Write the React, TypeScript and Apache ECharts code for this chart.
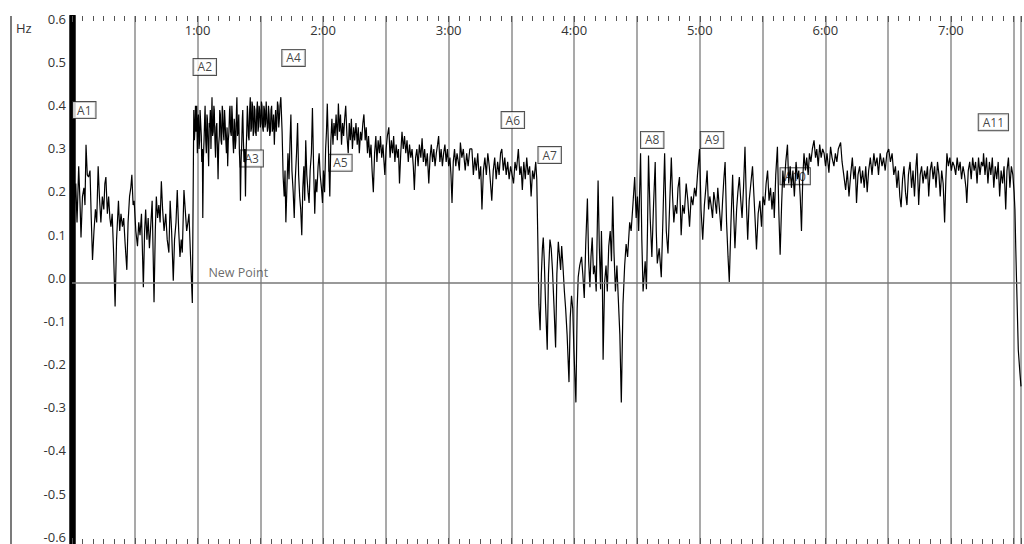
import React, { useEffect, useRef } from 'react';
import * as echarts from 'echarts';

// time (seconds) / frequency (Hz) pairs
const trace0to58: number[][] = [
  [0, 0.12], [0.6, 0.2], [1.1, 0.175], [1.8, 0.23], [2.4, 0.14], [3.2, 0.27], [3.8, 0.19], [4.3, 0.105], [5, 0.2], [5.7, 0.22],
  [6.2, 0.18], [6.7, 0.32], [7.3, 0.25], [7.9, 0.245], [8.6, 0.26], [9.2, 0.15], [9.8, 0.053], [10.5, 0.12], [11.2, 0.17], [11.8, 0.14],
  [12.5, 0.27], [13.1, 0.2], [13.8, 0.14], [14.5, 0.2], [15.2, 0.17], [15.7, 0.23], [16.2, 0.245], [16.9, 0.16], [17.5, 0.2], [18.1, 0.15],
  [18.6, 0.13], [19.2, 0.16], [19.8, 0.08], [20.6, -0.055], [21.3, 0.1], [22.2, 0.19], [22.8, 0.12], [23.4, 0.16], [24.1, 0.13], [24.7, 0.15],
  [25.4, 0.09], [26.2, 0.03], [26.8, 0.14], [27.5, 0.2], [28.1, 0.22], [28.6, 0.25], [29.2, 0.18], [29.7, 0.19], [30.5, 0.12], [31.3, 0.085],
  [31.9, 0.14], [32.5, 0.11], [33.2, 0.16], [34.1, -0.01], [34.7, 0.12], [35.2, 0.17], [35.8, 0.1], [36.4, 0.15], [37, 0.08], [37.6, 0.13],
  [38.3, 0.19], [39.2, -0.045], [39.8, 0.12], [40.3, 0.2], [40.9, 0.15], [41.5, 0.18], [42.1, 0.14], [42.7, 0.235], [43.3, 0.17], [44, 0.12],
  [44.8, 0.16], [45.5, 0.1], [46.3, 0.07], [46.9, 0.19], [47.6, 0.12], [48.4, 0.005], [49, 0.1], [49.7, 0.14], [50.3, 0.215], [51, 0.12],
  [51.6, 0.06], [52.2, 0.1], [52.7, 0.07], [53.5, 0.215], [54.1, 0.17], [54.8, 0.12], [55.4, 0.14], [55.9, 0.16], [56.5, 0.08], [57.5, -0.047],
];

const trace58to100: number[][] = [
  [58.2, 0.4], [58.5, 0.33], [58.8, 0.36], [59, 0.41], [59.3, 0.35], [59.6, 0.41], [59.9, 0.3], [60.1, 0.37], [60.4, 0.39], [60.7, 0.31],
  [61, 0.33], [61.2, 0.4], [61.5, 0.4], [61.8, 0.34], [62, 0.28], [62.3, 0.31], [62.5, 0.15], [62.8, 0.29], [63.1, 0.33], [63.4, 0.38],
  [63.6, 0.41], [63.9, 0.33], [64.2, 0.3], [64.5, 0.39], [64.7, 0.38], [65, 0.32], [65.3, 0.27], [65.6, 0.37], [65.8, 0.36], [66.1, 0.4],
  [66.4, 0.31], [66.7, 0.38], [66.9, 0.43], [67.2, 0.34], [67.5, 0.35], [67.8, 0.41], [68, 0.4], [68.3, 0.33], [68.6, 0.29], [68.9, 0.36],
  [69.2, 0.37], [69.5, 0.31], [69.8, 0.24], [70.1, 0.32], [70.4, 0.34], [70.6, 0.4], [70.9, 0.39], [71.2, 0.33], [71.5, 0.32], [71.8, 0.41],
  [72, 0.4], [72.3, 0.35], [72.6, 0.33], [72.9, 0.4], [73.1, 0.38], [73.5, 0.33], [73.8, 0.3], [74.1, 0.36], [74.4, 0.27], [74.7, 0.33],
  [75, 0.35], [75.3, 0.4], [75.5, 0.41], [75.8, 0.35], [76.1, 0.34], [76.4, 0.41], [76.6, 0.39], [76.9, 0.33], [77.2, 0.3], [77.5, 0.38],
  [77.7, 0.37], [78, 0.31], [78.3, 0.33], [78.6, 0.4], [78.8, 0.43], [79.1, 0.34], [79.4, 0.35], [79.7, 0.39], [80, 0.3], [80.3, 0.27],
  [80.5, 0.19], [80.8, 0.28], [81.1, 0.32], [81.4, 0.38], [81.6, 0.4], [81.9, 0.33], [82.2, 0.28], [82.6, 0.31], [82.9, 0.2], [83.2, 0.3],
  [83.5, 0.35], [83.8, 0.41], [84, 0.39], [84.3, 0.34], [84.6, 0.33], [84.9, 0.4], [85.2, 0.43], [85.5, 0.35], [85.8, 0.36], [86, 0.42],
  [86.3, 0.41], [86.6, 0.34], [86.9, 0.35], [87.1, 0.41], [87.4, 0.4], [87.7, 0.35], [88, 0.34], [88.3, 0.4], [88.6, 0.42], [88.9, 0.35],
  [89.1, 0.36], [89.4, 0.41], [89.7, 0.4], [90, 0.36], [90.3, 0.37], [90.5, 0.42], [90.8, 0.41], [91.1, 0.36], [91.4, 0.35], [91.7, 0.41],
  [92, 0.4], [92.2, 0.36], [92.5, 0.37], [92.8, 0.42], [93.1, 0.42], [93.4, 0.35], [93.7, 0.36], [93.9, 0.41], [94.2, 0.39], [94.5, 0.34],
  [94.8, 0.35], [95.1, 0.4], [95.4, 0.41], [95.7, 0.35], [96, 0.36], [96.3, 0.39], [96.7, 0.32], [97, 0.37], [97.3, 0.4], [97.6, 0.35],
  [97.9, 0.37], [98.2, 0.42], [98.5, 0.41], [98.8, 0.36], [99.1, 0.38], [99.4, 0.41], [99.8, 0.43],
];

const trace100to124: number[][] = [
  [100.4, 0.35], [100.9, 0.245], [101.4, 0.2], [101.8, 0.26], [102.2, 0.14], [102.7, 0.22], [103.2, 0.3], [103.7, 0.24], [104.2, 0.33], [104.6, 0.39],
  [105.1, 0.26], [105.7, 0.21], [106.2, 0.15], [106.7, 0.24], [107.3, 0.3], [107.8, 0.37], [108.3, 0.25], [108.8, 0.2], [109.3, 0.17], [109.8, 0.11],
  [110.3, 0.22], [110.8, 0.27], [111.2, 0.19], [111.7, 0.33], [112.2, 0.25], [112.8, 0.21], [113.3, 0.185], [113.8, 0.26], [114.4, 0.3], [114.9, 0.405],
  [115.4, 0.28], [116, 0.16], [116.5, 0.24], [117, 0.21], [117.6, 0.27], [118.1, 0.3], [118.6, 0.25], [119.2, 0.22], [119.7, 0.185], [120.2, 0.26],
  [120.7, 0.21], [121.2, 0.31], [121.6, 0.35], [122, 0.415], [122.6, 0.3], [123.2, 0.2], [123.7, 0.33],
];

const trace124to185: number[][] = [
  [124.2, 0.38], [124.7, 0.32], [125.2, 0.37], [125.7, 0.34], [126.2, 0.39], [126.8, 0.33], [127.3, 0.415], [127.8, 0.35], [128.3, 0.39], [128.8, 0.32],
  [129.3, 0.37], [129.8, 0.34], [130.3, 0.38], [130.8, 0.41], [131.4, 0.34], [132, 0.3], [132.5, 0.37], [133, 0.33], [133.5, 0.38], [134, 0.31],
  [134.6, 0.36], [135.1, 0.33], [135.7, 0.37], [136.3, 0.32], [136.8, 0.36], [137.3, 0.3], [137.9, 0.35], [138.4, 0.33], [139, 0.37], [139.5, 0.39],
  [140.1, 0.33], [140.6, 0.36], [141.2, 0.3], [141.7, 0.34], [142.3, 0.29], [142.9, 0.32], [143.4, 0.26], [144, 0.21], [144.6, 0.3], [145.2, 0.34],
  [145.7, 0.28], [146.3, 0.33], [146.9, 0.3], [147.4, 0.34], [148, 0.29], [148.6, 0.32], [149.1, 0.28], [149.5, 0.25], [150.1, 0.31], [150.7, 0.34],
  [151.4, 0.36], [152, 0.29], [152.6, 0.33], [153.2, 0.3], [153.7, 0.34], [154.3, 0.28], [154.9, 0.32], [155.5, 0.29], [156, 0.31], [156.5, 0.23],
  [157.1, 0.3], [157.7, 0.35], [158.3, 0.31], [158.9, 0.34], [159.5, 0.3], [160.1, 0.33], [160.7, 0.28], [161.3, 0.32], [161.9, 0.29], [162.5, 0.31],
  [163.1, 0.27], [163.6, 0.215], [164.2, 0.29], [164.8, 0.31], [165.4, 0.27], [166, 0.32], [166.7, 0.29], [167.3, 0.335], [167.9, 0.28], [168.5, 0.31],
  [169.1, 0.27], [169.8, 0.3], [170.5, 0.23], [171.1, 0.29], [171.7, 0.32], [172.3, 0.28], [172.9, 0.31], [173.5, 0.27], [174.1, 0.3], [174.7, 0.32],
  [175.2, 0.34], [175.8, 0.28], [176.4, 0.31], [177, 0.27], [177.6, 0.3], [178.2, 0.32], [178.8, 0.28], [179.4, 0.31], [180, 0.27], [180.6, 0.29],
  [181.1, 0.25], [181.6, 0.185], [182.2, 0.28], [182.8, 0.31], [183.4, 0.27], [184, 0.3], [184.6, 0.28], [185.1, 0.26],
];

const trace185to273: number[][] = [
  [185.6, 0.325], [186.3, 0.29], [187, 0.31], [187.9, 0.26], [188.6, 0.3], [189.3, 0.27], [190.1, 0.31], [191.1, 0.31], [191.8, 0.25], [192.5, 0.29],
  [193.2, 0.26], [193.9, 0.3], [194.6, 0.24], [195.3, 0.27], [195.9, 0.17], [196.6, 0.26], [197.3, 0.29], [198, 0.25], [198.7, 0.3], [199.4, 0.27],
  [200, 0.23], [200.6, 0.19], [201.3, 0.26], [202, 0.29], [202.7, 0.24], [203.4, 0.28], [204.1, 0.25], [204.8, 0.3], [205.4, 0.31], [206.1, 0.26],
  [206.8, 0.29], [207.5, 0.25], [208.2, 0.28], [208.9, 0.24], [209.6, 0.27], [210.3, 0.25], [211, 0.23], [211.7, 0.28], [212.4, 0.26], [213.3, 0.31],
  [214, 0.25], [214.6, 0.27], [215.2, 0.215], [215.9, 0.28], [216.6, 0.24], [217.3, 0.29], [218, 0.25], [218.7, 0.27], [219.4, 0.2], [220.1, 0.26],
  [220.8, 0.24], [221.6, 0.28], [222.1, 0.24], [222.6, 0.1], [223.1, -0.05], [223.7, -0.11], [224.3, 0.02], [224.8, 0.08], [225.2, 0.105], [225.7, 0.05],
  [226.3, -0.05], [227.1, -0.155], [227.7, 0.02], [228.4, 0.1], [229, 0.08], [229.6, 0.03], [230.3, -0.05], [231.1, -0.15], [231.7, 0.02], [232.4, 0.095],
  [233, 0.06], [233.5, 0.03], [234, 0.085], [234.6, 0.04], [235.3, -0.02], [235.9, -0.06], [236.6, -0.12], [237.5, -0.23], [238.1, -0.08], [238.7, -0.03],
  [239.3, -0.06], [239.8, -0.15], [240.8, -0.277], [241.4, -0.06], [241.9, 0.013], [242.6, 0.04], [243.5, 0.06], [244.1, 0.02], [244.8, -0.035], [245.5, 0.09],
  [246.3, 0.195], [246.9, 0.05], [247.5, -0.01], [248, 0.06], [248.6, 0.105], [249.2, 0.02], [249.8, 0.04], [250.5, -0.02], [251.4, 0.237], [252, 0.08],
  [252.6, -0.015], [253, 0.12], [253.4, 0.03], [253.8, -0.178], [254.5, 0], [255.2, 0.04], [255.8, -0.02], [256.5, 0.085], [257.2, 0.12], [257.8, 0.05],
  [258.4, 0.2], [259, 0.07], [259.7, -0.02], [260.4, 0.04], [261, -0.03], [261.8, -0.12], [262.5, -0.277], [263.3, -0.05], [264.1, 0.04], [264.8, 0.09],
  [265.5, 0.06], [266.5, 0.14], [267.2, 0.12], [268.1, 0.185], [268.9, 0.245], [269.6, 0.15], [270.2, 0.2], [270.8, 0.12], [271.7, 0.3], [272.3, 0.1],
  [272.9, -0.02],
];

const trace273to362: number[][] = [
  [273.9, 0.05], [274.5, -0.015], [275, 0.12], [275.5, 0.295], [276.3, 0.15], [277.1, 0.06], [277.9, 0.18], [278.7, 0.28], [279.2, 0.12], [279.7, 0.045],
  [280.6, 0.08], [281.6, 0.013], [282.4, 0.15], [283.2, 0.3], [284, 0.12], [284.8, 0.068], [285.6, 0.18], [286.4, 0.29], [287, 0.2], [287.6, 0.14],
  [288.3, 0.18], [289, 0.16], [289.6, 0.22], [290.3, 0.245], [291.1, 0.11], [291.8, 0.18], [292.6, 0.16], [293.5, 0.23], [294.3, 0.19], [295.1, 0.13],
  [295.9, 0.2], [296.7, 0.18], [297.5, 0.22], [298.2, 0.2], [298.9, 0.25], [299.9, 0.31], [300.6, 0.17], [301.4, 0.1], [302.2, 0.18], [302.9, 0.22],
  [303.5, 0.26], [304.2, 0.17], [304.8, 0.2], [305.4, 0.18], [306.1, 0.15], [306.7, 0.21], [307.3, 0.19], [308, 0.16], [308.6, 0.22], [309.4, 0.17],
  [310.2, 0.12], [310.9, 0.19], [311.5, 0.24], [312.1, 0.28], [312.8, 0.14], [313.5, 0.06], [314.1, 0.002], [314.9, 0.14], [315.7, 0.25], [316.2, 0.16],
  [316.8, 0.08], [317.6, 0.17], [318.2, 0.21], [318.9, 0.245], [319.6, 0.19], [320.2, 0.15], [320.9, 0.22], [321.6, 0.315], [322.3, 0.18], [322.9, 0.1],
  [323.6, 0.19], [324.4, 0.23], [325.2, 0.27], [325.9, 0.2], [326.5, 0.14], [327.1, 0.077], [327.9, 0.16], [328.7, 0.19], [329.5, 0.13], [330.2, 0.2],
  [331, 0.18], [331.7, 0.23], [332.4, 0.26], [333.1, 0.19], [333.8, 0.22], [334.5, 0.17], [335.2, 0.21], [335.6, 0.15], [336.3, 0.25], [337.1, 0.315],
  [337.8, 0.16], [338.4, 0.065], [339.1, 0.18], [339.7, 0.26], [340.3, 0.22], [341.1, 0.28], [341.9, 0.32], [342.5, 0.23], [343.2, 0.27], [343.8, 0.22],
  [344.5, 0.26], [345.2, 0.2], [346, 0.28], [346.7, 0.24], [347.3, 0.26], [348, 0.2], [348.6, 0.12], [349.2, 0.24], [349.8, 0.3], [350.5, 0.26],
  [351.1, 0.29], [351.8, 0.25], [352.4, 0.3], [353.1, 0.28], [353.8, 0.31], [354.6, 0.33], [355.3, 0.29], [355.9, 0.31], [356.6, 0.27], [357.3, 0.32],
  [358, 0.29], [358.7, 0.31], [359.4, 0.3], [360.1, 0.27], [360.8, 0.3], [361.7, 0.255],
];

const trace362to453: number[][] = [
  [362.5, 0.315], [363.2, 0.29], [364.1, 0.27], [364.8, 0.3], [365.5, 0.28], [366.2, 0.31], [367.3, 0.325], [368, 0.28], [368.8, 0.25], [369.7, 0.215],
  [370.5, 0.26], [371.3, 0.2], [372.1, 0.25], [372.9, 0.29], [373.6, 0.24], [374.3, 0.27], [374.9, 0.185], [375.6, 0.25], [376.4, 0.27], [377.1, 0.23],
  [377.8, 0.26], [378.6, 0.22], [379.3, 0.27], [380, 0.21], [380.7, 0.26], [381.5, 0.29], [382.3, 0.25], [383.2, 0.3], [383.9, 0.27], [384.7, 0.29],
  [385.4, 0.25], [386.2, 0.3], [387.1, 0.27], [387.8, 0.29], [388.6, 0.26], [389.4, 0.3], [390.3, 0.31], [391.1, 0.28], [391.9, 0.3], [392.7, 0.25],
  [393.5, 0.27], [394.2, 0.22], [394.9, 0.26], [395.6, 0.2], [396.2, 0.175], [396.9, 0.24], [397.6, 0.27], [398.3, 0.21], [399, 0.18], [399.7, 0.25],
  [400.5, 0.28], [401.2, 0.22], [401.9, 0.26], [402.6, 0.2], [403.3, 0.27], [403.8, 0.3], [404.6, 0.18], [405.3, 0.25], [406, 0.27], [406.7, 0.23],
  [407.4, 0.26], [408.1, 0.24], [408.8, 0.27], [409.4, 0.2], [410.1, 0.26], [410.8, 0.28], [411.5, 0.24], [412.2, 0.27], [412.9, 0.22], [413.6, 0.28],
  [414.3, 0.25], [414.9, 0.2], [415.6, 0.26], [416.3, 0.23], [417, 0.14], [417.6, 0.24], [418.1, 0.3], [418.8, 0.27], [419.5, 0.29], [420.2, 0.26],
  [420.9, 0.28], [421.6, 0.27], [422.3, 0.25], [423, 0.29], [423.7, 0.26], [424.4, 0.28], [425.1, 0.24], [425.8, 0.27], [426.5, 0.25], [427.2, 0.22],
  [427.6, 0.185], [428.3, 0.26], [429, 0.28], [429.7, 0.24], [430.4, 0.29], [431.1, 0.26], [431.8, 0.28], [432.5, 0.23], [433.2, 0.29], [433.9, 0.25],
  [434.6, 0.28], [435.3, 0.27], [435.6, 0.3], [436.3, 0.25], [437, 0.29], [437.7, 0.23], [438.4, 0.28], [439.1, 0.25], [439.8, 0.29], [440.5, 0.22],
  [441.2, 0.27], [441.9, 0.24], [442.6, 0.28], [443.3, 0.2], [444, 0.26], [444.7, 0.23], [445.4, 0.27], [446.2, 0.17], [446.8, 0.26], [447.5, 0.29],
  [448.2, 0.22], [448.9, 0.27], [449.6, 0.25], [450.2, 0.21], [450.6, 0.17], [451, 0.08], [451.4, 0], [452.2, -0.155], [453, -0.21], [453.5, -0.24],
];

const markerNames = ['A1', 'A2', 'A3', 'A4', 'A5', 'A6', 'A7', 'A8', 'A9', 'A10', 'A11'];
const markerSeconds = [0.5, 58.1, 80.5, 100.5, 122.9, 205.3, 222.9, 271.9, 300.5, 338.6, 433.3];
const markerHz = [0.4, 0.5, 0.288, 0.521, 0.278, 0.377, 0.296, 0.331, 0.331, 0.247, 0.372];

const pointName = 'New Point';
const pointSecond = 65.2;
const pointHz = 0.025;

const timeMax = 453.5;
const hzMin = -0.605;
const hzMax = 0.618;

const trace = [
  ...trace0to58,
  ...trace58to100,
  ...trace100to124,
  ...trace124to185,
  ...trace185to273,
  ...trace273to362,
  ...trace362to453,
];

const FONT = '"Open Sans", "Noto Sans", sans-serif';

export default function App() {
  const ref = useRef<HTMLDivElement>(null);
  useEffect(() => {
    if (!ref.current) return;
    const chart = echarts.init(ref.current, null, { renderer: 'svg' });
    const tickStyle = { color: '#555', width: 1 };
    chart.setOption({
      animation: false,
      backgroundColor: '#fff',
      textStyle: { fontFamily: FONT },
      grid: { left: 72, right: 0, top: 16, bottom: 0, containLabel: false },
      xAxis: [
        {
          type: 'value',
          position: 'top',
          min: 0,
          max: timeMax,
          interval: 30,
          axisLine: { show: false, onZero: false },
          axisTick: { show: true, inside: true, length: 6, lineStyle: tickStyle },
          minorTick: { show: true, splitNumber: 6, length: 5, lineStyle: tickStyle },
          splitLine: { show: true, lineStyle: { color: '#8c8c8c', width: 1.5 } },
          axisLabel: {
            inside: true,
            margin: 7,
            fontSize: 13,
            color: '#333',
            fontFamily: FONT,
            formatter: (v: number) => (v > 0 && Math.abs(v % 60) < 1e-6 ? `${Math.round(v / 60)}:00` : ''),
          },
        },
        {
          type: 'value',
          position: 'bottom',
          min: 0,
          max: timeMax,
          interval: 30,
          axisLine: { show: false, onZero: false },
          axisTick: { show: true, inside: true, length: 6, lineStyle: tickStyle },
          minorTick: { show: true, splitNumber: 6, length: 5, lineStyle: tickStyle },
          splitLine: { show: false },
          axisLabel: { show: false },
        },
      ],
      yAxis: {
        type: 'value',
        min: hzMin,
        max: hzMax,
        splitNumber: 12,
        offset: 3,
        axisLine: { show: true, lineStyle: { color: '#000', width: 6.5 } },
        axisTick: { show: false },
        splitLine: { show: false },
        axisLabel: {
          margin: 3,
          fontSize: 13,
          color: '#333',
          fontFamily: FONT,
          verticalAlign: 'bottom',
          lineHeight: 10,
          formatter: (v: number) => {
            const r = Math.round(v * 10);
            if (Math.abs(v * 10 - r) > 1e-6) return '';
            const s = (r / 10).toFixed(1);
            return s === '-0.0' ? '0.0' : s;
          },
        },
      },
      graphic: [
        { type: 'line', shape: { x1: 11, y1: 16, x2: 11, y2: 544 }, style: { stroke: '#222', lineWidth: 1.2 }, z: 50 },
        { type: 'text', left: 16, top: 21, style: { text: 'Hz', font: `13px ${FONT}`, fill: '#333' }, z: 50 },
        { type: 'rect', left: 0, top: 0, shape: { width: 1024, height: 15 }, style: { fill: '#fff' }, z: 100 },
      ],
      series: [
        {
          type: 'scatter',
          z: 1,
          symbolSize: 0,
          silent: true,
          data: markerSeconds.map((t, i) => ({ name: markerNames[i], value: [t, markerHz[i]] })),
          label: {
            show: true,
            position: 'right',
            distance: 0,
            formatter: '{b}',
            backgroundColor: '#fff',
            borderColor: '#222',
            borderWidth: 1,
            padding: [2, 4, 1, 4],
            fontSize: 12,
            lineHeight: 13,
            color: '#111',
            fontFamily: FONT,
          },
        },
        {
          type: 'scatter',
          z: 1,
          symbolSize: 0,
          silent: true,
          data: [{ name: pointName, value: [pointSecond, pointHz] }],
          label: {
            show: true,
            position: 'right',
            distance: 0,
            formatter: '{b}',
            fontSize: 12.5,
            color: '#444',
            fontFamily: FONT,
          },
        },
        {
          type: 'line',
          z: 3,
          silent: true,
          data: trace,
          symbol: 'none',
          showSymbol: false,
          lineStyle: { color: '#000', width: 1.2 },
          markLine: {
            silent: true,
            symbol: 'none',
            label: { show: false },
            lineStyle: { color: '#777', width: 1.5, type: 'solid' },
            data: [{ yAxis: 0 }],
          },
        },
      ],
    });
    return () => chart.dispose();
  }, []);
  return (
    <div
      ref={ref}
      style={{ position: 'fixed', left: 0, top: 0, width: 1024, height: 544, background: '#fff' }}
    />
  );
}
